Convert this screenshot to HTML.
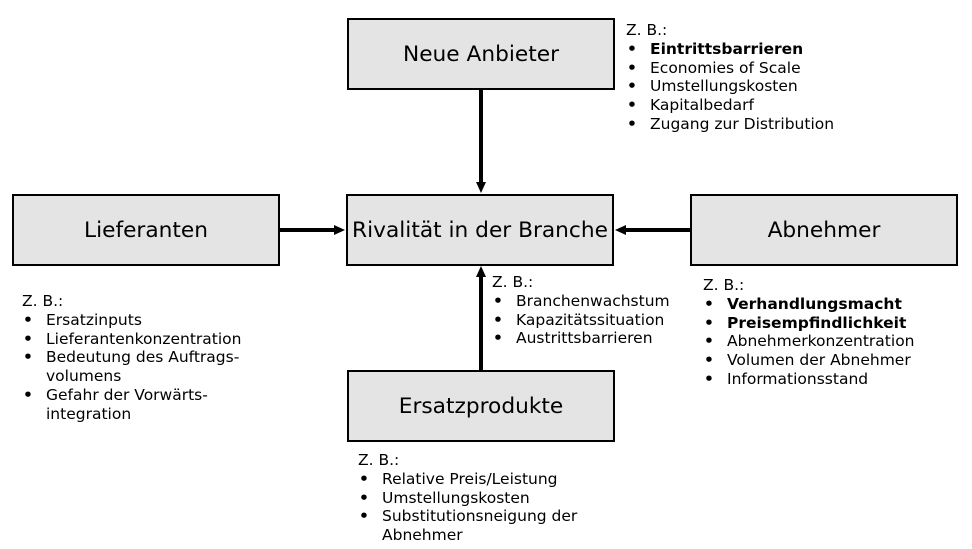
<!DOCTYPE html>
<html><head><meta charset="utf-8"><style>
body{margin:0;width:972px;height:549px;background:#fff;position:relative;overflow:hidden;font-family:"DejaVu Sans","Liberation Sans",sans-serif;color:#000}
.box{position:absolute;box-sizing:border-box;border:2.5px solid #000;background:#e4e4e4;display:flex;align-items:center;justify-content:center;font-size:21.7px;width:268px;height:72px}
.l{position:absolute;font-size:15.5px;line-height:18.8px;white-space:nowrap}
.l div{position:relative;padding-left:24px}
.l div.b::before{content:"•";position:absolute;left:1px;font-weight:bold}
.l div.z{padding-left:0}
</style></head><body>
<div class="box" style="left:347px;top:18px">Neue Anbieter</div>
<div class="box" style="left:12px;top:194px">Lieferanten</div>
<div class="box" style="left:346px;top:194px">Rivalität in der Branche</div>
<div class="box" style="left:690px;top:194px">Abnehmer</div>
<div class="box" style="left:347px;top:370px">Ersatzprodukte</div>
<svg style="position:absolute;left:0;top:0" width="972" height="549">
<g stroke="#000" stroke-width="4"><line x1="481" y1="89" x2="481" y2="184"/><line x1="280" y1="230" x2="336" y2="230"/><line x1="690" y1="230" x2="624" y2="230"/><line x1="481" y1="370" x2="481" y2="275"/></g>
<g fill="#000"><polygon points="476,182 486,182 481,193"/><polygon points="334,225 334,235 345,230"/><polygon points="626,225 626,235 615,230"/><polygon points="476,277 486,277 481,266"/></g>
</svg>
<div class="l" style="left:626px;top:21px"><div class="z">Z. B.:</div><div class="b"><b>Eintrittsbarrieren</b></div><div class="b">Economies of Scale</div><div class="b">Umstellungskosten</div><div class="b">Kapitalbedarf</div><div class="b">Zugang zur Distribution</div></div>
<div class="l" style="left:22px;top:292px"><div class="z">Z. B.:</div><div class="b">Ersatzinputs</div><div class="b">Lieferantenkonzentration</div><div class="b">Bedeutung des Auftrags-<br>volumens</div><div class="b">Gefahr der Vorwärts-<br>integration</div></div>
<div class="l" style="left:492px;top:273px"><div class="z">Z. B.:</div><div class="b">Branchenwachstum</div><div class="b">Kapazitätssituation</div><div class="b">Austrittsbarrieren</div></div>
<div class="l" style="left:703px;top:276px"><div class="z">Z. B.:</div><div class="b"><b>Verhandlungsmacht</b></div><div class="b"><b>Preisempfindlichkeit</b></div><div class="b">Abnehmerkonzentration</div><div class="b">Volumen der Abnehmer</div><div class="b">Informationsstand</div></div>
<div class="l" style="left:358px;top:451px"><div class="z">Z. B.:</div><div class="b">Relative Preis/Leistung</div><div class="b">Umstellungskosten</div><div class="b">Substitutionsneigung der<br>Abnehmer</div></div>
</body></html>
